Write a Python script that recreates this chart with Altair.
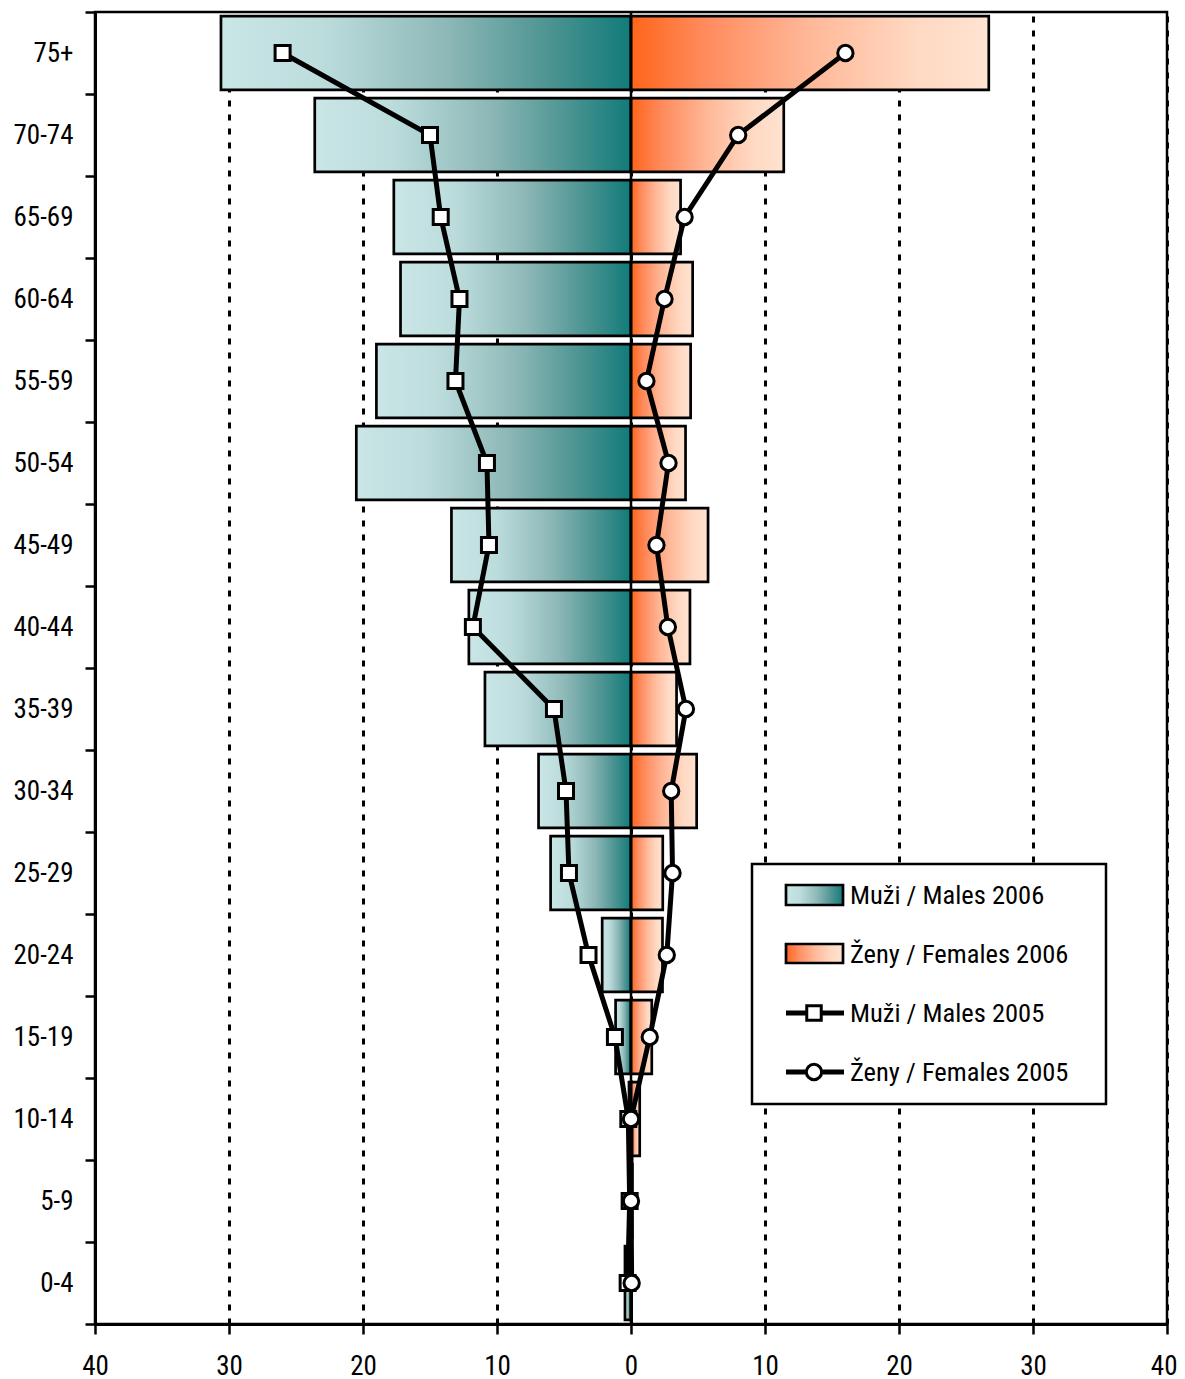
import altair as alt
import pandas as pd

ages = ["0-4", "5-9", "10-14", "15-19", "20-24", "25-29", "30-34", "35-39",
        "40-44", "45-49", "50-54", "55-59", "60-64", "65-69", "70-74", "75+"]
males_2006 = [0.45, 0.1, 0.15, 1.15, 2.15, 6.0, 6.9, 10.9, 12.1, 13.4, 20.5, 19.0, 17.2, 17.7, 23.6, 30.6]
females_2006 = [0.05, 0.1, 0.65, 1.55, 2.35, 2.37, 4.9, 3.4, 4.4, 5.75, 4.07, 4.45, 4.6, 3.7, 11.4, 26.7]
males_2005 = [0.25, 0.1, 0.2, 1.2, 3.17, 4.63, 4.85, 5.75, 11.8, 10.6, 10.75, 13.1, 12.8, 14.2, 15.0, 26.0]
females_2005 = [0.05, 0.0, 0.0, 1.4, 2.67, 3.1, 3.0, 4.1, 2.75, 1.9, 2.8, 1.15, 2.5, 4.0, 8.0, 16.0]
x_ticks = [-40, -30, -20, -10, 0, 10, 20, 30, 40]
legend_labels = ["Muži / Males 2006", "Ženy / Females 2006", "Muži / Males 2005", "Ženy / Females 2005"]

FONT = "Roboto Condensed, Roboto, sans-serif"

male_grad = {"gradient": "linear", "x1": 0, "x2": 1, "y1": 0, "y2": 0,
             "stops": [{"offset": 0, "color": "#CAE6E7"},
                       {"offset": 0.25, "color": "#BCDCDC"},
                       {"offset": 0.55, "color": "#8DB8B7"},
                       {"offset": 0.8, "color": "#4C9492"},
                       {"offset": 1, "color": "#117B79"}]}
female_grad = {"gradient": "linear", "x1": 0, "x2": 1, "y1": 0, "y2": 0,
               "stops": [{"offset": 0, "color": "#FF6519"},
                         {"offset": 0.2, "color": "#FF8A5C"},
                         {"offset": 0.5, "color": "#FFB898"},
                         {"offset": 0.8, "color": "#FFD9C3"},
                         {"offset": 1, "color": "#FFE3D1"}]}

df = pd.DataFrame({
    "age": ages,
    "idx": list(range(len(ages))),
    "m06": [-v for v in males_2006],
    "f06": females_2006,
    "m05": [-v for v in males_2005],
    "f05": females_2005,
})

order_top_down = list(reversed(ages))

xscale = alt.Scale(domain=[-40, 40], nice=False, zero=False)
yscale = alt.Scale(domain=order_top_down, paddingInner=0, paddingOuter=0)

xaxis = alt.Axis(values=x_ticks, labelExpr="abs(datum.value)", title=None,
                 grid=True, gridDash=[6, 8], gridColor="black", gridWidth=3, gridOpacity=1,
                 tickSize=10, tickWidth=2.5, tickColor="black",
                 domainWidth=3, domainColor="black", labelFlush=False, labelOverlap=False,
                 labelAlign={"expr": "datum.value == 40 ? 'right' : 'center'"},
                 labelOffset={"expr": "datum.value == 40 ? 10 : 0"},
                 labelFontSize=27, labelFont=FONT, labelColor="black", labelPadding=19)
yaxis = alt.Axis(title=None, tickBand="extent", tickSize=10, tickWidth=2.5, tickColor="black",
                 domainWidth=3, domainColor="black", grid=False,
                 labelFontSize=27, labelFont=FONT, labelColor="black", labelPadding=12)

base = alt.Chart(df)

bars_m = base.mark_bar(fill=male_grad, stroke="black", strokeWidth=2.7, height={"band": 0.9}).encode(
    x=alt.X("m06:Q", scale=xscale, axis=xaxis),
    x2=alt.datum(0),
    y=alt.Y("age:N", scale=yscale, axis=yaxis, sort=order_top_down),
)
bars_f = base.mark_bar(fill=female_grad, stroke="black", strokeWidth=2.7, height={"band": 0.9}).encode(
    x=alt.X("f06:Q", scale=xscale),
    x2=alt.datum(0),
    y=alt.Y("age:N", sort=order_top_down),
)

zero = alt.Chart(alt.Data(values=[{"v": 0}])).mark_rule(color="black", strokeWidth=2.5).encode(
    x=alt.X("v:Q", scale=xscale)
)

line_m = base.mark_line(color="black", strokeWidth=5).encode(
    x=alt.X("m05:Q", scale=xscale), y=alt.Y("age:N", sort=order_top_down), order="idx:Q")
line_f = base.mark_line(color="black", strokeWidth=5).encode(
    x=alt.X("f05:Q", scale=xscale), y=alt.Y("age:N", sort=order_top_down), order="idx:Q")
pts_m = base.mark_point(shape="square", filled=True, fill="white", stroke="black",
                        strokeWidth=3, size=225, opacity=1).encode(
    x=alt.X("m05:Q", scale=xscale), y=alt.Y("age:N", sort=order_top_down))
pts_f = base.mark_point(shape="circle", filled=True, fill="white", stroke="black",
                        strokeWidth=3, size=235, opacity=1).encode(
    x=alt.X("f05:Q", scale=xscale), y=alt.Y("age:N", sort=order_top_down))

# legend (drawn manually, in pixel space of the plot area)
one = alt.Data(values=[{"k": 1}])
leg_box = alt.Chart(one).mark_rect(fill="white", stroke="black", strokeWidth=2.5).encode(
    x=alt.value(657), x2=alt.value(1011), y=alt.value(852), y2=alt.value(1092))
leg_r1 = alt.Chart(one).mark_rect(fill=male_grad, stroke="black", strokeWidth=2.7).encode(
    x=alt.value(691), x2=alt.value(748), y=alt.value(873), y2=alt.value(893))
leg_r2 = alt.Chart(one).mark_rect(fill=female_grad, stroke="black", strokeWidth=2.7).encode(
    x=alt.value(691), x2=alt.value(748), y=alt.value(932), y2=alt.value(951))
leg_l3 = alt.Chart(one).mark_rule(color="black", strokeWidth=5).encode(
    x=alt.value(691), x2=alt.value(749), y=alt.value(1001))
leg_p3 = alt.Chart(one).mark_point(shape="square", filled=True, fill="white", stroke="black",
                                   strokeWidth=3, size=210, opacity=1).encode(
    x=alt.value(719), y=alt.value(1001))
leg_l4 = alt.Chart(one).mark_rule(color="black", strokeWidth=5).encode(
    x=alt.value(691), x2=alt.value(749), y=alt.value(1060))
leg_p4 = alt.Chart(one).mark_point(shape="circle", filled=True, fill="white", stroke="black",
                                   strokeWidth=3, size=235, opacity=1).encode(
    x=alt.value(719), y=alt.value(1060))
leg_texts = []
for lab, yy in zip(legend_labels, [884, 943, 1002, 1061]):
    leg_texts.append(
        alt.Chart(alt.Data(values=[{"t": lab}])).mark_text(
            align="left", baseline="middle", fontSize=26.5, font=FONT, color="black").encode(
            x=alt.value(755), y=alt.value(yy), text="t:N"))

chart = alt.layer(
    bars_m, bars_f, zero, line_m, line_f, pts_m, pts_f,
    leg_box, leg_r1, leg_r2, leg_l3, leg_p3, leg_l4, leg_p4, *leg_texts
).properties(
    width=1072, height=1312,
    autosize=alt.AutoSizeParams(type="none"),
    padding={"left": 87, "top": 4, "right": 10, "bottom": 64},
).configure(background="white").configure_view(stroke="black", strokeWidth=2.5)

chart.save("out.html", embed_options={"renderer": "svg", "actions": False})
